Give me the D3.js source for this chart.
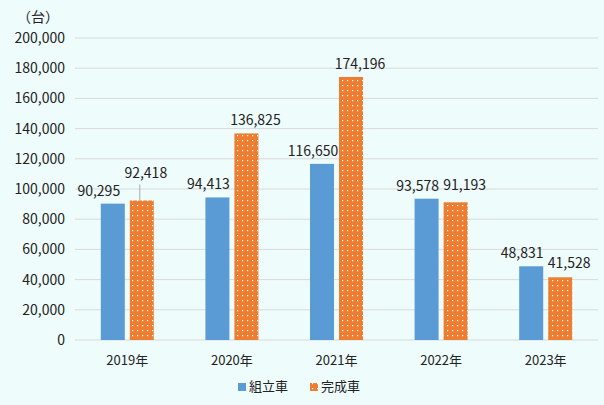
<!DOCTYPE html>
<html lang="ja">
<head>
<meta charset="UTF-8">
<script src="https://d3js.org/d3.v7.min.js"></script>
<style>
  body { margin: 0; background: #effcfc; }
  text { font-family: "Noto Sans CJK JP", "Noto Sans", sans-serif; fill: #222; }
</style>
</head>
<body>
<svg id="chart" width="604" height="405"></svg>
<script>
const years = ["2019年", "2020年", "2021年", "2022年", "2023年"];
const kumitate = [90295, 94413, 116650, 93578, 48831];
const kansei = [92418, 136825, 174196, 91193, 41528];
const seriesNames = ["組立車", "完成車"];
const colors = ["#5b9bd5", "#ed7d31"];

const svg = d3.select("#chart");
const margin = { top: 38, right: 6, bottom: 65, left: 75 };
const width = 604 - margin.left - margin.right;
const height = 405 - margin.top - margin.bottom;

svg.append("rect").attr("width", 604).attr("height", 405).attr("fill", "#effcfc");

const defs = svg.append("defs");
const pat = defs.append("pattern").attr("id", "dots")
  .attr("patternUnits", "userSpaceOnUse").attr("width", 5).attr("height", 5);
pat.append("rect").attr("width", 5).attr("height", 5).attr("fill", colors[1]);
pat.append("rect").attr("x", 2).attr("y", 2).attr("width", 1.2).attr("height", 1.2).attr("fill", "#fff");

const g = svg.append("g").attr("transform", `translate(${margin.left},${margin.top})`);

const x = d3.scaleBand().domain(years).range([0, width]);
const y = d3.scaleLinear().domain([0, 200000]).range([height, 0]);

// gridlines
g.selectAll(".grid").data(y.ticks(10)).enter().append("line")
  .attr("x1", 0).attr("x2", width)
  .attr("y1", d => y(d)).attr("y2", d => y(d))
  .attr("stroke", "#d9d9d9");

const yAxis = g.append("g").call(d3.axisLeft(y).ticks(10).tickFormat(d3.format(",")).tickSize(0).tickPadding(10));
yAxis.select(".domain").remove();
yAxis.selectAll("text").style("font-size", "14px").attr("fill", "#222");

const xAxis = g.append("g").attr("transform", `translate(0,${height})`)
  .call(d3.axisBottom(x).tickSize(0).tickPadding(16));
xAxis.select(".domain").remove();
xAxis.selectAll("text").style("font-size", "13px").attr("fill", "#222");

svg.append("text").attr("x", 38).attr("y", 22).attr("text-anchor", "middle")
  .style("font-size", "14px").text("（台）");

const bw = 24, gap = 5;
const data = [kumitate, kansei];
data.forEach((vals, s) => {
  const off = s === 0 ? -bw - gap / 2 : gap / 2;
  g.selectAll(".bar" + s).data(vals).enter().append("rect")
    .attr("x", (d, i) => x(years[i]) + x.bandwidth() / 2 + off)
    .attr("y", d => y(d)).attr("width", bw)
    .attr("height", d => height - y(d))
    .attr("fill", s === 0 ? colors[0] : "url(#dots)");
});

// labels
const lbl = (vx, vy, t) => g.append("text").attr("x", vx).attr("y", vy)
  .attr("text-anchor", "middle").style("font-size", "14px").text(t);
const fmt = d3.format(",");
kumitate.forEach((v, i) => {
  const cx = x(years[i]) + x.bandwidth() / 2 - bw / 2 - gap / 2;
  lbl(cx - (i === 0 ? 14 : 9), y(v) - 8, fmt(v));
});
kansei.forEach((v, i) => {
  const cx = x(years[i]) + x.bandwidth() / 2 + bw / 2 + gap / 2;
  if (i === 0) {
    lbl(cx + 4, y(v) - 22, fmt(v));
    g.append("line").attr("x1", cx - 2).attr("x2", cx - 2)
      .attr("y1", y(v) - 16).attr("y2", y(v)).attr("stroke", "#aaa");
  } else if (i >= 3) {
    lbl(cx + 9, y(v) + (i === 4 ? 33 : 0) - (i === 4 ? 42 : 8) + (i === 4 ? 0 : -4), fmt(v));
  } else {
    lbl(cx + 9, y(v) - 8, fmt(v));
  }
});

// legend
const leg = svg.append("g").attr("transform", "translate(238,391)");
seriesNames.forEach((n, i) => {
  const lg = leg.append("g").attr("transform", `translate(${i * 72},0)`);
  lg.append("rect").attr("x", 0).attr("y", -8).attr("width", 8).attr("height", 8)
    .attr("fill", i === 0 ? colors[0] : "url(#dots)");
  lg.append("text").attr("x", 11).attr("y", 0).style("font-size", "13px").text(n);
});
</script>
</body>
</html>
